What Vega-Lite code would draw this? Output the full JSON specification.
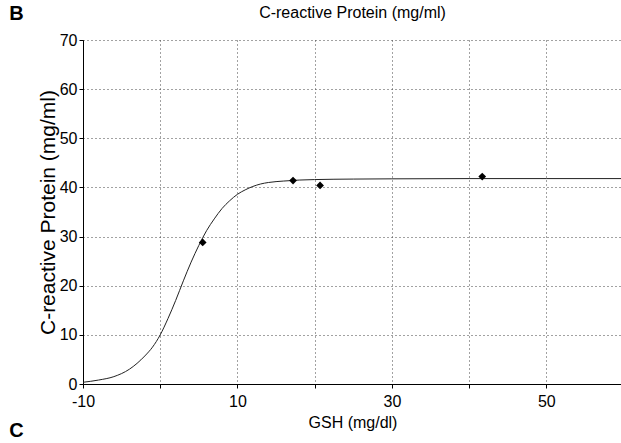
{
  "$schema": "https://vega.github.io/schema/vega-lite/v6.json",
  "background": "white",
  "padding": {"left": 9, "top": 4, "right": 0, "bottom": 0},
  "config": {
    "view": {"stroke": null},
    "font": "Liberation Sans",
    "concat": {"spacing": 0}
  },
  "datasets": {
    "curve": [
      {"gsh": -10, "crp": 0.35}, {"gsh": -8, "crp": 0.8}, {"gsh": -6, "crp": 1.5},
      {"gsh": -4, "crp": 3.0}, {"gsh": -3, "crp": 4.2}, {"gsh": -2, "crp": 5.7},
      {"gsh": -1, "crp": 7.5}, {"gsh": 0, "crp": 10.0}, {"gsh": 1, "crp": 13.3},
      {"gsh": 2, "crp": 17.0}, {"gsh": 3, "crp": 21.0}, {"gsh": 4, "crp": 24.8},
      {"gsh": 5, "crp": 28.2}, {"gsh": 6, "crp": 31.2}, {"gsh": 7, "crp": 33.6},
      {"gsh": 8, "crp": 35.7}, {"gsh": 9, "crp": 37.3}, {"gsh": 10, "crp": 38.6},
      {"gsh": 11, "crp": 39.5}, {"gsh": 12, "crp": 40.2}, {"gsh": 13, "crp": 40.7},
      {"gsh": 14, "crp": 41.0}, {"gsh": 16, "crp": 41.3}, {"gsh": 18, "crp": 41.5},
      {"gsh": 20, "crp": 41.6}, {"gsh": 25, "crp": 41.7}, {"gsh": 30, "crp": 41.75},
      {"gsh": 40, "crp": 41.8}, {"gsh": 50, "crp": 41.8}, {"gsh": 59.8, "crp": 41.8}
    ],
    "points": [
      {"gsh": 5.5, "crp": 28.8},
      {"gsh": 17.2, "crp": 41.4},
      {"gsh": 20.7, "crp": 40.4},
      {"gsh": 41.7, "crp": 42.2}
    ]
  },
  "title": {"text": "B", "anchor": "start", "frame": "bounds", "fontSize": 20, "fontWeight": "bold", "color": "black", "offset": -19},
  "vconcat": [
    {
      "title": {"text": "C", "orient": "bottom", "anchor": "start", "frame": "bounds", "fontSize": 20, "fontWeight": "bold", "color": "black", "offset": -9, "dx": -28},
      "vconcat": [
        {
          "width": 539,
          "height": 344,
          "title": {"text": "C-reactive Protein (mg/ml)", "fontSize": 16, "fontWeight": "normal", "color": "black", "offset": 11},
          "layer": [
            {
              "data": {"name": "curve"},
              "mark": {"type": "line", "color": "#222", "strokeWidth": 1, "interpolate": "monotone"},
              "encoding": {
                "x": {
                  "field": "gsh", "type": "quantitative",
                  "scale": {"domain": [-10, 59.8], "nice": false, "zero": false},
                  "axis": {
                    "title": "GSH (mg/dl)",
                    "titleFont": "Liberation Sans", "titleFontSize": 16, "titleFontWeight": "normal", "titleColor": "black", "titlePadding": 5,
                    "values": [-10, 0, 10, 20, 30, 40, 50],
                    "labelExpr": "datum.value % 20 != 0 ? replace(datum.label, '\u2212', '-') : ''",
                    "labelFont": "Liberation Sans", "labelFontSize": 16, "labelColor": "black", "labelPadding": 5, "labelFlush": false,
                    "domainColor": "black", "domainWidth": 1,
                    "tickColor": "black", "tickSize": 4,
                    "grid": true, "gridColor": "#444", "gridDash": [1, 3], "gridWidth": 1
                  }
                },
                "y": {
                  "field": "crp", "type": "quantitative",
                  "scale": {"domain": [0, 70], "nice": false},
                  "axis": {
                    "title": "C-reactive Protein (mg/ml)",
                    "titleFont": "Liberation Sans", "titleFontSize": 21, "titleFontWeight": "normal", "titleColor": "black", "titlePadding": 1,
                    "values": [0, 10, 20, 30, 40, 50, 60, 70],
                    "labelFont": "Liberation Sans", "labelFontSize": 16, "labelColor": "black", "labelPadding": 2,
                    "domainColor": "black", "domainWidth": 1,
                    "tickColor": "black", "tickSize": 4,
                    "grid": true, "gridColor": "#444", "gridDash": [1, 3], "gridWidth": 1
                  }
                }
              }
            },
            {
              "data": {"name": "points"},
              "mark": {"type": "point", "shape": "diamond", "filled": true, "color": "black", "size": 60, "opacity": 1},
              "encoding": {
                "x": {"field": "gsh", "type": "quantitative"},
                "y": {"field": "crp", "type": "quantitative"}
              }
            },
            {
              "mark": {"type": "rule", "color": "black", "strokeWidth": 1},
              "encoding": {"y": {"datum": 70}}
            }
          ]
        }
      ]
    }
  ]
}
